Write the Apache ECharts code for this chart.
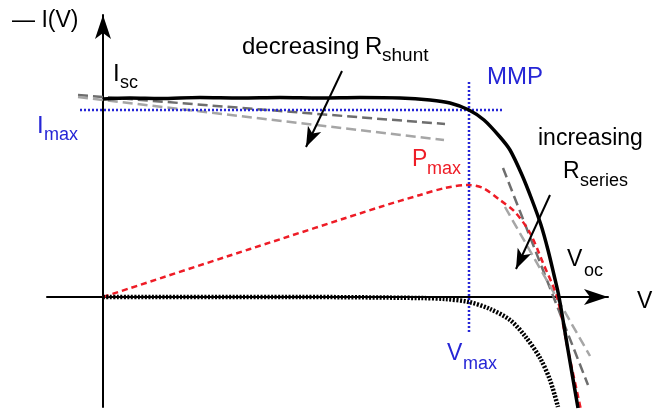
<!DOCTYPE html>
<html>
<head>
<meta charset="utf-8">
<script src="https://cdn.jsdelivr.net/npm/echarts@6/dist/echarts.min.js"></script>
<style>
    html,body{margin:0;padding:0;background:#fff;}
    #chart{width:654px;height:412px;}
</style>
</head>
<body>
<div id="chart"></div>
<script>
// I-V curve of a solar cell (arbitrary units, origin at V=0, I=0)
var ivV = [0, 0.27, 0.57, 0.97, 1.37, 1.77, 2.17, 2.57, 2.97, 3.27, 3.47, 3.66, 3.81, 3.97, 4.07, 4.19, 4.29, 4.38, 4.45, 4.51, 4.56, 4.65, 4.75];
var ivI = [1.98, 1.99, 1.985, 1.995, 1.99, 1.995, 1.99, 1.995, 1.99, 1.97, 1.94, 1.87, 1.77, 1.60, 1.47, 1.22, 0.97, 0.72, 0.47, 0.22, 0, -0.53, -1.11];

// power curve P(V)
var powV = [0, 1.47, 2.77, 3.17, 3.42, 3.65, 3.80, 3.97, 4.12, 4.27, 4.40, 4.54, 4.65, 4.78];
var powP = [0, 0.48, 0.90, 1.02, 1.09, 1.12, 1.09, 0.97, 0.85, 0.64, 0.34, 0, -0.53, -1.13];

// dark curve
var darkV = [0, 1.97, 3.17, 3.42, 3.66, 3.87, 4.07, 4.22, 4.37, 4.47, 4.55];
var darkI = [0, 0, -0.01, -0.02, -0.05, -0.12, -0.23, -0.39, -0.61, -0.83, -1.10];

// tangent lines (dashed grey)
var shuntDark = [[-0.25, 2.02], [3.42, 1.73]];
var shuntLight = [[-0.25, 2.00], [3.41, 1.57]];
var seriesDark = [[4.00, 1.29], [4.85, -0.88]];
var seriesLight = [[4.02, 0.90], [4.87, -0.59]];

// maximum power point
var vMax = 3.66, iMax = 1.87;
var mppH = [[-0.23, iMax], [3.99, iMax]];
var mppV = [[vMax, 2.15], [vMax, -0.35]];

// annotation arrows
var shuntArrow = [[2.39, 2.26], [2.03, 1.50]];
var seriesArrow = [[4.47, 1.02], [4.13, 0.28]];

var BLUE = '#2626d6', RED = '#ee1c26';
var FONT = '"Liberation Sans", Arial, sans-serif';

function zip(xs, ys) {
    var out = [];
    for (var i = 0; i < xs.length; i++) out.push([xs[i], ys[i]]);
    return out;
}

function line(name, data, color, width, type, smooth) {
    return {
        name: name, type: 'line', data: data, symbol: 'none', clip: false,
        smooth: smooth ? 0.3 : false, silent: true,
        lineStyle: {color: color, width: width, type: type}
    };
}

// text placed by its baseline
function label(text, x, base, size, color) {
    return {
        type: 'text', x: x, y: base - size * 0.35, silent: true,
        style: {text: text, font: size + 'px ' + FONT, fill: color || '#000', align: 'left', verticalAlign: 'middle'}
    };
}

var chart = echarts.init(document.getElementById('chart'));

var option = {
    animation: false,
    grid: {left: 47, right: 46, top: 15, bottom: 5},
    xAxis: {
        type: 'value', min: -0.56, max: 5.05,
        axisLine: {onZero: true, symbol: ['none', 'arrow'], symbolSize: [12, 24], lineStyle: {color: '#000', width: 2}},
        axisTick: {show: false}, axisLabel: {show: false}, splitLine: {show: false}
    },
    yAxis: {
        type: 'value', min: -1.10, max: 2.82,
        axisLine: {onZero: true, symbol: ['none', 'arrow'], symbolSize: [12, 24], lineStyle: {color: '#000', width: 2}},
        axisTick: {show: false}, axisLabel: {show: false}, splitLine: {show: false}
    },
    series: [
        line('shunt1', shuntDark, '#6e6e6e', 2.5, [10, 5]),
        line('shunt2', shuntLight, '#a6a6a6', 2.5, [10, 5]),
        line('series1', seriesDark, '#6e6e6e', 2.5, [10, 5]),
        line('series2', seriesLight, '#a6a6a6', 2.5, [10, 5]),
        line('P(V)', zip(powV, powP), RED, 2.5, [6, 4], true),
        line('mppH', mppH, BLUE, 2.5, [2, 2]),
        line('mppV', mppV, BLUE, 2.5, [2, 2]),
        line('dark', zip(darkV, darkI), '#000', 4.5, [2, 1.5], true),
        line('I(V)', zip(ivV, ivI), '#000', 3.5, 'solid', true),
        {
            type: 'line', data: [], silent: true,
            markLine: {
                silent: true, symbol: ['none', 'arrow'], symbolSize: [11, 20],
                label: {show: false},
                lineStyle: {color: '#000', width: 2, type: 'solid'},
                data: [
                    [{coord: shuntArrow[0]}, {coord: shuntArrow[1]}],
                    [{coord: seriesArrow[0]}, {coord: seriesArrow[1]}]
                ]
            }
        }
    ],
    graphic: [
        label('\u2014 I(V)', 12, 29, 23),
        label('I', 113, 83, 24), label('sc', 120, 89, 18),
        label('I', 37, 135, 24, BLUE), label('max', 44, 141, 18, BLUE),
        label('decreasing', 242, 56, 24), label('R', 365, 56, 24), label('shunt', 382, 62, 19),
        label('MMP', 487, 86, 24, BLUE),
        label('P', 412, 168, 23, RED), label('max', 427, 175, 18, RED),
        label('increasing', 538, 147, 23),
        label('R', 563, 180, 23), label('series', 580, 187, 18),
        label('V', 567, 268, 23), label('oc', 584, 277, 18),
        label('V', 637, 310, 23),
        label('V', 447, 362, 23, BLUE), label('max', 463, 370, 18, BLUE)
    ]
};

chart.setOption(option);
</script>
</body>
</html>
